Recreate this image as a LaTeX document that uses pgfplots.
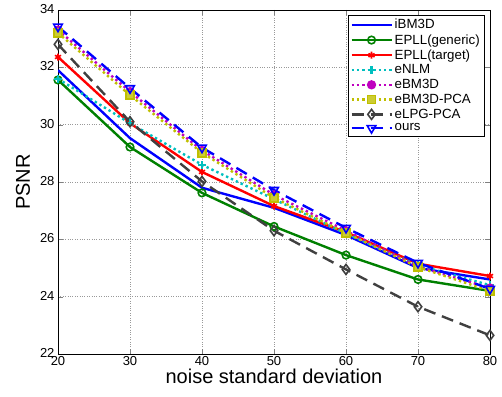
\documentclass[border=0pt]{standalone}
\usepackage{fontspec}
\setmainfont{Liberation Sans}
\usepackage{pgfplots}
\pgfplotsset{compat=1.18}
\definecolor{mg}{rgb}{0,0.5,0}
\definecolor{mc}{rgb}{0,0.75,0.75}
\definecolor{mm}{rgb}{0.75,0,0.75}
\definecolor{my}{rgb}{0.75,0.75,0}
\definecolor{mk}{rgb}{0.25,0.25,0.25}
\begin{document}
\begin{tikzpicture}
\begin{axis}[
 scale only axis, width=432pt, height=344pt,
 xmin=20, xmax=80, ymin=22, ymax=34,
 xtick={20,30,...,80}, ytick={22,24,...,34},
 grid=major, grid style={dotted, gray!80, line width=0.6pt},
 tick align=inside, tick pos=both, major tick length=5pt,
 axis line style={line width=0.8pt},
 ticklabel style={font=\fontsize{13}{15}\selectfont},
 xticklabel style={yshift=1pt},
 yticklabel style={yshift=1pt},
 /pgf/number format/assume math mode=true,
 xlabel={noise standard deviation}, ylabel={PSNR},
 label style={font=\fontsize{20}{23}\selectfont},
 xlabel style={yshift=4pt},
 ylabel style={yshift=3pt},
 legend style={at={(0.986,0.985)}, anchor=north east,
   font=\fontsize{13.3}{15}\selectfont, draw=black, row sep=0pt,
   inner sep=2pt},
 legend cell align=left,
 every axis plot post/.append style={legend image code/.code={\draw[mark repeat=2,mark phase=2] plot coordinates {(0pt,0pt) (20pt,0pt) (40pt,0pt)};}},
]
% iBM3D
\addplot[blue, line width=2.4pt, mark=none] coordinates {(20,31.9) (30,29.53) (40,27.8) (50,27.1) (60,26.15) (70,25.0) (80,24.6)};
\addlegendentry{iBM3D}
% EPLL generic
\addplot[mg, line width=2.4pt, mark=o, mark size=3.8pt, mark options={solid, line width=1.6pt}] coordinates {(20,31.56) (30,29.22) (40,27.62) (50,26.45) (60,25.45) (70,24.6) (80,24.2)};
\addlegendentry{EPLL(generic)}
% EPLL target
\addplot[red, line width=2.4pt, mark=asterisk, mark size=3.5pt, mark options={solid, line width=1.6pt}] coordinates {(20,32.36) (30,30.05) (40,28.35) (50,27.16) (60,26.25) (70,25.15) (80,24.72)};
\addlegendentry{EPLL(target)}
% eNLM
\addplot[mc, line width=2.4pt, dash pattern=on 2.4pt off 3pt, mark=+, mark size=3.8pt, mark options={solid, line width=2.2pt}] coordinates {(20,31.6) (30,30.05) (40,28.6) (50,27.4) (60,26.2) (70,25.1) (80,24.4)};
\addlegendentry{eNLM}
% eBM3D
\addplot[mm, line width=2.4pt, dash pattern=on 2.4pt off 3pt, mark=*, mark size=3.4pt, mark options={solid}] coordinates {(20,33.3) (30,31.15) (40,29.1) (50,27.55) (60,26.3) (70,25.05) (80,24.3)};
\addlegendentry{eBM3D}
% eBM3D-PCA
\addplot[my, line width=2.4pt, dash pattern=on 2.4pt off 3pt, mark=square*, mark size=4pt, mark options={solid, fill=my!80!white, line width=1.6pt}] coordinates {(20,33.2) (30,31.03) (40,29.02) (50,27.45) (60,26.22) (70,25.03) (80,24.2)};
\addlegendentry{eBM3D{-}PCA}
% eLPG-PCA
\addplot[mk, line width=2.4pt, dash pattern=on 12pt off 7pt, mark=diamond, mark size=5pt, mark options={solid, line width=1.6pt, fill=white}] coordinates {(20,32.8) (30,30.1) (40,28.02) (50,26.3) (60,24.95) (70,23.65) (80,22.65)};
\addlegendentry{eLPG{-}PCA}
% ours
\addplot[blue, line width=2.4pt, dash pattern=on 12pt off 7pt, mark=triangle, mark size=5pt, mark options={solid, rotate=180, line width=1.6pt, fill=white}] coordinates {(20,33.42) (30,31.27) (40,29.2) (50,27.72) (60,26.4) (70,25.18) (80,24.27)};
\addlegendentry{ours}
\end{axis}
\path ([xshift=-58pt,yshift=-42pt]current axis.south west) rectangle ([xshift=12pt,yshift=10pt]current axis.north east);
\end{tikzpicture}
\end{document}
